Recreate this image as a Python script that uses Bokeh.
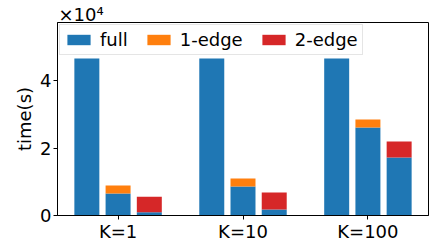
from bokeh.plotting import figure
from bokeh.models import Range1d, FixedTicker, Legend, Title
from bokeh.embed import file_html
from bokeh.resources import INLINE

# Data
groups = ["K=1", "K=10", "K=100"]
full = [46600, 46600, 46600]
edge1_base = [6500, 8600, 26100]
edge1_extra = [2400, 2400, 2400]
edge2_base = [1000, 1800, 17200]
edge2_extra = [4600, 5000, 4800]
y_ticks = [0, 20000, 40000]
y_tick_labels = ["0", "2", "4"]
y_scale_label = "×10⁴"

BLUE = "#1f77b4"
ORANGE = "#ff7f0e"
RED = "#d62728"
FONT = "DejaVu Sans"

p = figure(width=436, height=245, output_backend="svg", toolbar_location=None,
           x_range=Range1d(-0.485, 2.485), y_range=Range1d(0, 57300),
           min_border_left=57, min_border_right=8, min_border_top=22, min_border_bottom=30)

p.title = Title(text=y_scale_label, align="left", text_font=FONT, text_font_size="18px",
                text_font_style="normal", text_color="black", standoff=-4, offset=1)

xs = list(range(len(groups)))
x_full = [x - 0.25 for x in xs]
x_e1 = [x for x in xs]
x_e2 = [x + 0.25 for x in xs]
e1_top = [b + e for b, e in zip(edge1_base, edge1_extra)]
e2_top = [b + e for b, e in zip(edge2_base, edge2_extra)]

r_full = p.vbar(x=x_full, top=full, bottom=0, width=0.2, fill_color=BLUE, line_color=None)
p.vbar(x=x_e1, top=edge1_base, bottom=0, width=0.2, fill_color=BLUE, line_color=None)
r_e1 = p.vbar(x=x_e1, top=e1_top, bottom=edge1_base, width=0.2, fill_color=ORANGE, line_color=None)
p.vbar(x=x_e2, top=edge2_base, bottom=0, width=0.2, fill_color=BLUE, line_color=None)
r_e2 = p.vbar(x=x_e2, top=e2_top, bottom=edge2_base, width=0.2, fill_color=RED, line_color=None)

legend = Legend(items=[("full", [r_full]), ("1-edge", [r_e1]), ("2-edge", [r_e2])],
                location="top_left", orientation="horizontal",
                glyph_width=29, glyph_height=13, label_standoff=7, spacing=16,
                padding=4, margin=2, label_height=18,
                label_text_font=FONT, label_text_font_size="18px", label_text_color="black",
                border_line_color="#cccccc", border_line_width=1,
                background_fill_color="white", background_fill_alpha=0.8)
p.add_layout(legend)

p.xgrid.visible = False
p.ygrid.visible = False
p.outline_line_color = "black"
p.outline_line_width = 1
p.outline_line_alpha = 1

p.xaxis.ticker = FixedTicker(ticks=xs)
p.xaxis.major_label_overrides = {i: g for i, g in enumerate(groups)}
p.yaxis.ticker = FixedTicker(ticks=y_ticks)
p.yaxis.major_label_overrides = {t: l for t, l in zip(y_ticks, y_tick_labels)}

for ax in (p.xaxis[0], p.yaxis[0]):
    ax.major_label_text_font = FONT
    ax.major_label_text_font_size = "18px"
    ax.major_label_text_color = "black"
    ax.major_tick_out = 4
    ax.major_tick_in = 0
    ax.minor_tick_out = 0
    ax.minor_tick_in = 0
    ax.major_tick_line_color = "black"
    ax.axis_line_color = "black"
    ax.major_label_standoff = 2
p.xaxis.major_label_standoff = 1

p.yaxis.axis_label = "time(s)"
p.yaxis.axis_label_text_font = FONT
p.yaxis.axis_label_text_font_size = "18px"
p.yaxis.axis_label_text_font_style = "normal"
p.yaxis.axis_label_text_color = "black"
p.yaxis.axis_label_standoff = 2

open("out.html", "w").write(file_html(p, INLINE))
